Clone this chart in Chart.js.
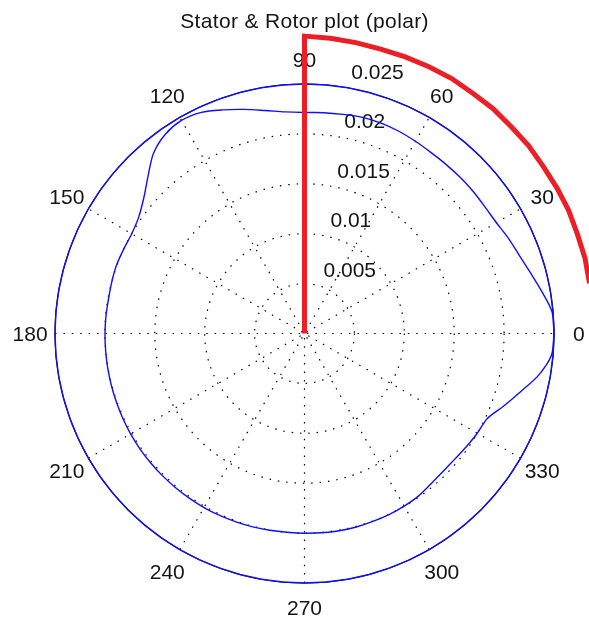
<!DOCTYPE html>
<html>
<head>
<meta charset="utf-8">
<title>Stator &amp; Rotor plot (polar)</title>
<style>
  html, body { margin: 0; padding: 0; background: #ffffff; overflow: hidden; }
  canvas { display: block; }
</style>
<script src="https://cdn.jsdelivr.net/npm/chart.js@4.4.1/dist/chart.umd.min.js"></script>
</head>
<body>
<canvas id="polarChart" width="589" height="618"></canvas>
<script>
// ---- data -------------------------------------------------------------
// Sample angles (degrees) for the stator and rotor outlines
const angles = [
  0, 5, 10, 15, 20, 25, 30, 35, 40, 45, 50, 55,
  60, 65, 70, 75, 80, 85, 90, 95, 100, 105, 110, 115,
  120, 125, 130, 135, 140, 145, 150, 155, 160, 165, 170, 175,
  180, 185, 190, 195, 200, 205, 210, 215, 220, 225, 230, 235,
  240, 245, 250, 255, 260, 265, 270, 275, 280, 285, 290, 295,
  300, 305, 310, 315, 320, 325, 330, 335, 340, 345, 350, 355, 360
];

// Rotor outline radius at each sample angle
const rotorRadius = [
  0.02500, 0.02490, 0.02415, 0.02345, 0.02290, 0.02255, 0.02220, 0.02209, 0.02209, 0.02209, 0.02209, 0.02212,
  0.02224, 0.02236, 0.02244, 0.02242, 0.02229, 0.02221, 0.02214, 0.02229, 0.02269, 0.02325, 0.02385, 0.02445,
  0.02465, 0.02435, 0.02355, 0.02219, 0.02104, 0.02029, 0.01999, 0.01999, 0.02004, 0.01999, 0.01994, 0.01997,
  0.01999, 0.02000, 0.02002, 0.02004, 0.02006, 0.02009, 0.02012, 0.02014, 0.02014, 0.02014, 0.02014, 0.02014,
  0.02014, 0.02012, 0.02009, 0.02006, 0.02002, 0.01999, 0.02001, 0.02004, 0.02007, 0.02007, 0.02004, 0.02002,
  0.01997, 0.01989, 0.01969, 0.01959, 0.01962, 0.01979, 0.01999, 0.02019, 0.02124, 0.02244, 0.02385, 0.02485, 0.02500
];

// Stator bore radius at each sample angle
const statorRadius = [
  0.025, 0.025, 0.025, 0.025, 0.025, 0.025, 0.025, 0.025, 0.025, 0.025, 0.025, 0.025,
  0.025, 0.025, 0.025, 0.025, 0.025, 0.025, 0.025, 0.025, 0.025, 0.025, 0.025, 0.025,
  0.025, 0.025, 0.025, 0.025, 0.025, 0.025, 0.025, 0.025, 0.025, 0.025, 0.025, 0.025,
  0.025, 0.025, 0.025, 0.025, 0.025, 0.025, 0.025, 0.025, 0.025, 0.025, 0.025, 0.025,
  0.025, 0.025, 0.025, 0.025, 0.025, 0.025, 0.025, 0.025, 0.025, 0.025, 0.025, 0.025,
  0.025, 0.025, 0.025, 0.025, 0.025, 0.025, 0.025, 0.025, 0.025, 0.025, 0.025, 0.025, 0.025
];

// Red position marker: radial stroke at 90 deg, then an arc sweeping back to 0 deg
const markerAngles = [90, 90, 85, 80, 75, 70, 65, 60, 55, 50, 45, 40, 35, 30, 25, 20, 15, 10, 5, 0];
const markerRadius = [0, 0.0298, 0.0297, 0.0296, 0.0295, 0.0295, 0.0295, 0.0295, 0.0294, 0.0294,
                      0.0293, 0.0293, 0.0292, 0.0292, 0.0292, 0.0291, 0.0291, 0.0290, 0.0290, 0.0290];

// Grid: radial rings and angular spokes
const ringValues = [0.005, 0.01, 0.015, 0.02, 0.025];
const ringLabels = ['0.005', '0.01', '0.015', '0.02', '0.025'];
const spokeAngles = [0, 30, 60, 90, 120, 150, 180, 210, 240, 270, 300, 330];
const spokeLabels = ['0', '30', '60', '90', '120', '150', '180', '210', '240', '270', '300', '330'];
const chartTitle = 'Stator & Rotor plot (polar)';

// ---- layout -----------------------------------------------------------
const W = 589, H = 618;
const CX = 304.5, CY = 333.5;          // pole position on the canvas
const R_MAX = 0.025;                   // outer ring value
const PX_PER_UNIT = 249.5 / R_MAX;     // radial scale
const FONT = '21px "Liberation Sans", Arial, Helvetica, sans-serif';
const TEXT_COLOR = '#141414';

const DEG = Math.PI / 180;
const toXY = (deg, r) => ({ x: r * Math.cos(deg * DEG), y: r * Math.sin(deg * DEG) });

const statorPts = angles.map((a, i) => toXY(a, statorRadius[i]));
const rotorPts = angles.map((a, i) => toXY(a, rotorRadius[i]));
const markerPts = markerAngles.map((a, i) => toXY(a, markerRadius[i]));

// Draws the polar frame (dotted rings, spokes, labels, title) beneath the curves
const polarFrame = {
  id: 'polarFrame',
  beforeDatasetsDraw(chart) {
    const { ctx } = chart;
    const xs = chart.scales.x, ys = chart.scales.y;
    const px = (deg, r) => {
      const p = toXY(deg, r);
      return [xs.getPixelForValue(p.x), ys.getPixelForValue(p.y)];
    };
    const cx = xs.getPixelForValue(0), cy = ys.getPixelForValue(0);
    const rPix = v => xs.getPixelForValue(v) - cx;

    ctx.save();

    // dotted spokes through the pole
    ctx.strokeStyle = '#000000';
    ctx.lineWidth = 1.2;
    ctx.setLineDash([1.5, 6.9]);
    spokeAngles.filter(a => a < 180).forEach(a => {
      const [x1, y1] = px(a + 180, R_MAX);
      const [x2, y2] = px(a, R_MAX);
      ctx.beginPath();
      ctx.moveTo(x1, y1);
      ctx.lineTo(x2, y2);
      ctx.stroke();
    });

    // dotted inner rings
    ringValues.slice(0, -1).forEach(v => {
      ctx.beginPath();
      ctx.arc(cx, cy, rPix(v), 0, Math.PI * 2);
      ctx.stroke();
    });

    // solid outer ring
    ctx.setLineDash([]);
    ctx.strokeStyle = '#000000';
    ctx.lineWidth = 1.2;
    ctx.beginPath();
    ctx.arc(cx, cy, rPix(R_MAX), 0, Math.PI * 2);
    ctx.stroke();

    ctx.fillStyle = TEXT_COLOR;
    ctx.font = FONT;

    // ring value labels along the 82 degree ray
    const rStep = ringValues[1] - ringValues[0];
    ctx.textAlign = 'left';
    ctx.textBaseline = 'alphabetic';
    ringValues.forEach((v, i) => {
      const [lx, ly] = px(82, v + rStep / 20);
      ctx.fillText('  ' + ringLabels[i], lx, ly - 5);
    });

    // angle labels outside the outer ring
    ctx.textAlign = 'center';
    spokeAngles.forEach((a, i) => {
      const [lx, ly] = px(a, 1.1 * R_MAX);
      ctx.fillText(spokeLabels[i], lx, ly + 7.5);
    });

    // title
    ctx.letterSpacing = '0.35px';
    ctx.fillText(chartTitle, cx, 28);

    ctx.restore();
  }
};

new Chart(document.getElementById('polarChart'), {
  type: 'scatter',
  data: {
    datasets: [
      {
        label: 'Marker',
        data: markerPts,
        showLine: true,
        borderColor: 'rgb(236, 30, 38)',
        borderWidth: 5,
        borderJoinStyle: 'miter',
        borderCapStyle: 'butt',
        pointRadius: 0,
        tension: 0,
        order: 0
      },
      {
        label: 'Rotor',
        data: rotorPts,
        showLine: true,
        borderColor: 'rgb(15, 15, 250)',
        borderWidth: 1.4,
        pointRadius: 0,
        tension: 0.3,
        order: 1
      },
      {
        label: 'Stator',
        data: statorPts,
        showLine: true,
        borderColor: 'rgb(15, 15, 250)',
        borderWidth: 1.4,
        pointRadius: 0,
        tension: 0,
        order: 2
      }
    ]
  },
  options: {
    responsive: false,
    animation: false,
    devicePixelRatio: 1,
    layout: { padding: 0 },
    plugins: {
      legend: { display: false },
      title: { display: false },
      tooltip: { enabled: false }
    },
    events: [],
    scales: {
      x: {
        type: 'linear',
        display: false,
        min: -CX / PX_PER_UNIT,
        max: (W - CX) / PX_PER_UNIT
      },
      y: {
        type: 'linear',
        display: false,
        min: -(H - CY) / PX_PER_UNIT,
        max: CY / PX_PER_UNIT
      }
    }
  },
  plugins: [polarFrame]
});
</script>
</body>
</html>
